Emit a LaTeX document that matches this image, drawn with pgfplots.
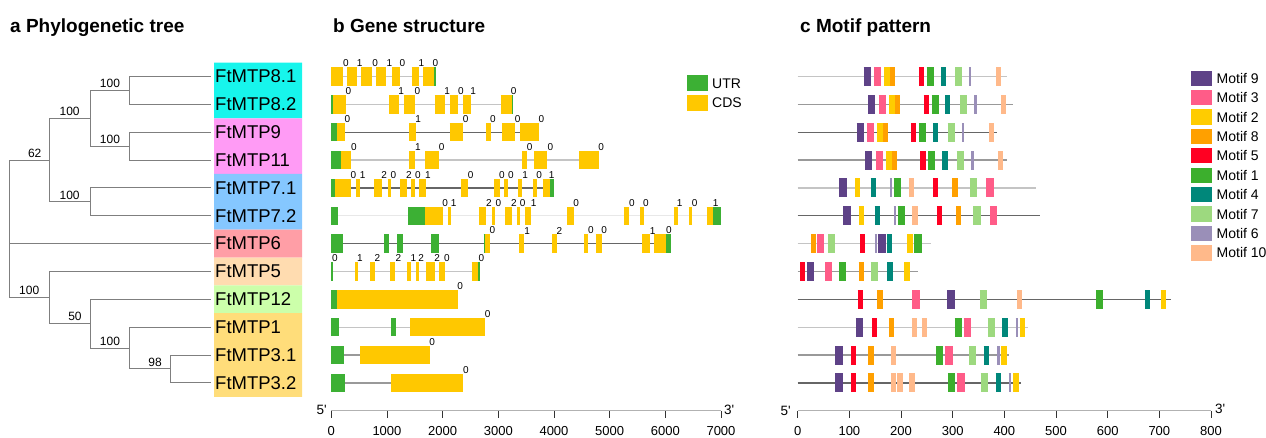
\documentclass[border=0pt]{standalone}
\usepackage{fontspec}
\setmainfont{Liberation Sans}
\newfontfamily\plainsans{Liberation Sans}
\usepackage{pgfplots}
\pgfplotsset{compat=1.18}

\definecolor{utr}{HTML}{3CB034}
\definecolor{cds}{HTML}{FFC800}
\definecolor{m9}{HTML}{5E4287}
\definecolor{m3}{HTML}{FF5C88}
\definecolor{m2}{HTML}{FFCC00}
\definecolor{m8}{HTML}{FFA000}
\definecolor{m5}{HTML}{FF0022}
\definecolor{m1}{HTML}{3CAF2D}
\definecolor{m4}{HTML}{00877A}
\definecolor{m7}{HTML}{9DD97F}
\definecolor{m6}{HTML}{9A8FB8}
\definecolor{m10}{HTML}{FFB98A}
\definecolor{bxa}{HTML}{17F5EC}
\definecolor{bxb}{HTML}{FF9BF5}
\definecolor{bxc}{HTML}{85C7FF}
\definecolor{bxd}{HTML}{FF9EA6}
\definecolor{bxe}{HTML}{FFDCB0}
\definecolor{bxf}{HTML}{CCFFAA}
\definecolor{bxg}{HTML}{FFDD7A}
\definecolor{lnlight}{HTML}{C4C4C4}
\definecolor{lnvlight}{HTML}{E8E8E8}
\definecolor{lnmid}{HTML}{999999}
\definecolor{lndark}{HTML}{666666}
\definecolor{treegray}{HTML}{7F7F7F}

\pgfplotsset{
  rows/.style={scale only axis, clip=false, y dir=reverse, ymin=0.5, ymax=13,
    height=348.125pt, anchor=south west},
  seg/.style={quiver={u=\thisrow{w},v=0}, line width=#1, line cap=butt},
  bottomaxis/.style={axis y line=none, axis x line=bottom,
    axis line style={-, draw=gray!60, line width=0.9pt},
    tick align=outside, major tick length=7pt,
    tick style={draw=gray!40!black, line width=0.8pt},
    xticklabel style={font=\fontsize{13}{13}\selectfont, text=black, yshift=-5.5pt},
    /pgf/number format/1000 sep={}, /pgf/number format/assume math mode=true},
  phase/.style={only marks, mark=none, nodes near coords, point meta=explicit symbolic,
    every node near coord/.append style={font=\fontsize{10}{10}\selectfont, text=black,
      inner sep=0pt, anchor=south, yshift=9.4pt}},
}

\begin{document}
\begin{tikzpicture}
% ---------------- a: tree ----------------
\begin{axis}[rows, at={(0pt,26.3pt)}, width=302pt, xmin=0, xmax=302, hide axis]
\addplot[fill=bxa, draw=none] coordinates {(214,0.5) (302,0.5) (302,2.5) (214,2.5) (214,0.5)};
\addplot[fill=bxb, draw=none] coordinates {(214,2.5) (302,2.5) (302,4.5) (214,4.5) (214,2.5)};
\addplot[fill=bxc, draw=none] coordinates {(214,4.5) (302,4.5) (302,6.5) (214,6.5) (214,4.5)};
\addplot[fill=bxd, draw=none] coordinates {(214,6.5) (302,6.5) (302,7.5) (214,7.5) (214,6.5)};
\addplot[fill=bxe, draw=none] coordinates {(214,7.5) (302,7.5) (302,8.5) (214,8.5) (214,7.5)};
\addplot[fill=bxf, draw=none] coordinates {(214,8.5) (302,8.5) (302,9.5) (214,9.5) (214,8.5)};
\addplot[fill=bxg, draw=none] coordinates {(214,9.5) (302,9.5) (302,12.5) (214,12.5) (214,9.5)};
\addplot[treegray, line width=1pt, line cap=rect, quiver={u=\thisrow{u},v=\thisrow{v}}] table {
x y u v
129.3 1 81.4 0
129.3 2 81.4 0
129.3 3 81.4 0
129.3 4 81.4 0
90 5 120.7 0
90 6 120.7 0
9.3 7 201.4 0
49.3 8 161.4 0
90 9 120.7 0
129.3 10 81.4 0
170 11 40.7 0
170 12 40.7 0
90 1.5 39.3 0
90 3.5 39.3 0
49.3 2.5 40.7 0
49.3 5.5 40.7 0
9.3 4 40 0
9.3 8.9375 40 0
49.3 9.875 40.7 0
90 10.75 39.3 0
129.3 11.5 40.7 0
129.3 1 0 1
129.3 3 0 1
90 1.5 0 2
90 5 0 1
49.3 2.5 0 3
9.3 4 0 4.9375
49.3 8 0 1.875
90 9 0 1.75
129.3 10 0 1.5
170 11 0 1
};
\addplot[only marks, mark=none, nodes near coords, point meta=explicit symbolic,
  every node near coord/.append style={font=\fontsize{12}{12}\selectfont, text=black,
    inner sep=0pt, anchor=south, yshift=2.5pt}] table[meta=l] {
x y l
110 1.5 100
110 3.5 100
69.6 2.5 100
69.6 5.5 100
34.7 4 62
29.2 8.9375 100
75 9.875 50
110 10.75 100
155 11.5 98
};
\addplot[only marks, mark=none, nodes near coords, point meta=explicit symbolic,
  every node near coord/.append style={font=\fontsize{18.5}{20}\selectfont, text=black,
    inner sep=0pt, anchor=west}] table[meta=l] {
x y l
215 1 FtMTP8.1
215 2 FtMTP8.2
215 3 FtMTP9
215 4 FtMTP11
215 5 FtMTP7.1
215 6 FtMTP7.2
215 7 FtMTP6
215 8 FtMTP5
215 9 FtMTP12
215 10 FtMTP1
215 11 FtMTP3.1
215 12 FtMTP3.2
};
\end{axis}

% ---------------- b: gene structure ----------------
\begin{axis}[rows, bottomaxis, at={(331.3pt,26.3pt)}, width=389.7pt,
  xmin=0, xmax=7000, xtick={0,1000,...,7000}]
\addplot[lnlight, seg=1.3pt] table {
x y w
0 1 1878
0 2 3264
0 4 4800
0 8 2676
0 10 2760
};
\addplot[lnvlight, seg=1.3pt] table {
x y w
0 6 7002
};
\addplot[lnmid, seg=1.3pt] table {
x y w
0 11 1764
0 12 2370
};
\addplot[lndark, seg=1.3pt] table {
x y w
0 3 3732
0 5 4002
0 7 6096
};
\addplot[utr, seg=18.5pt] table {
x y w
1836 1 42
0 2 24
3240 2 24
0 3 102
0 4 168
0 5 60
3924 5 78
0 6 120
1386 6 306
6858 6 144
0 7 204
954 7 78
1188 7 96
1794 7 144
2736 7 30
6018 7 78
0 8 24
2640 8 36
0 9 96
0 10 132
1080 10 90
0 11 222
0 12 246
};
\addplot[cds, seg=18.5pt] table {
x y w
0 1 204
288 1 174
540 1 198
810 1 174
1092 1 144
1446 1 126
1650 1 186
24 2 234
1032 2 180
1314 2 198
1854 2 186
2124 2 150
2370 2 132
3042 2 198
102 3 138
1398 3 120
2124 3 240
2778 3 84
3066 3 234
3384 3 348
168 4 192
1398 4 114
1686 4 240
3432 4 84
3648 4 228
4452 4 348
60 5 288
450 5 72
774 5 138
1014 5 60
1242 5 120
1434 5 72
1578 5 120
2322 5 126
2928 5 102
3096 5 78
3360 5 72
3624 5 66
3798 5 126
1692 6 318
2100 6 48
2652 6 126
2892 6 54
3126 6 114
3336 6 60
3474 6 120
4242 6 114
5250 6 102
5538 6 72
6150 6 72
6420 6 60
6744 6 114
2766 7 84
3372 7 96
3966 7 96
4548 7 66
4746 7 120
5586 7 144
5802 7 216
432 8 42
696 8 84
1062 8 84
1368 8 72
1530 8 48
1704 8 150
1938 8 96
2520 8 120
96 9 2172
1422 10 1338
522 11 1242
1074 12 1296
};
\addplot[phase] table[meta=l] {
x y l
264 1 0
510 1 1
786 1 0
1044 1 1
1278 1 0
1620 1 1
1872 1 0
306 2 0
1254 2 1
1548 2 0
2082 2 1
2328 2 0
2550 2 1
3276 2 0
288 3 0
1560 3 1
2412 3 0
2904 3 0
3348 3 0
3774 3 0
408 4 0
1554 4 1
1980 4 0
3564 4 0
3936 4 0
4848 4 0
396 5 0
564 5 1
948 5 2
1116 5 0
1392 5 2
1554 5 0
1734 5 1
2502 5 0
3066 5 0
3228 5 0
3480 5 1
3732 5 0
3960 5 1
2046 6 0
2196 6 1
2832 6 2
3000 6 0
3282 6 2
3438 6 0
3636 6 1
4398 6 0
5400 6 0
5652 6 0
6258 6 1
6528 6 0
6906 6 1
2892 7 0
3516 7 1
4098 7 2
4662 7 0
4902 7 0
5772 7 1
6066 7 0
66 8 0
516 8 1
828 8 2
1206 8 2
1476 8 1
1614 8 2
1902 8 2
2076 8 0
2694 8 0
2316 9 0
2808 10 0
1812 11 0
2418 12 0
};
\end{axis}

% ---------------- c: motif pattern ----------------
\begin{axis}[rows, bottomaxis, at={(797.7pt,26.3pt)}, width=413.3pt,
  xmin=0, xmax=800, xtick={0,100,...,800}]
\addplot[lnlight, seg=1.3pt] table {
x y w
0 1 405.5
0 5 461
0 7 257.9
0 10 444.8
};
\addplot[lnmid, seg=1.3pt] table {
x y w
0 2 415.8
0 4 404.2
0 8 232.1
0 11 409.4
};
\addplot[lndark, seg=1.3pt] table {
x y w
0 3 384.9
0 6 468.7
0 9 722.6
0 12 432
};
\addplot[m9, seg=19pt] table {
x y w
127.6 1 13.6
136.7 2 13.5
114.1 3 13.5
130.9 4 13.5
80.6 5 14.8
88.3 6 14.2
154.7 7 15.5
17.4 8 14.8
289.5 9 14.2
112.2 10 14.8
72.2 11 14.8
72.2 12 14.8
};
\addplot[m3, seg=19pt] table {
x y w
147.6 1 14.2
156.7 2 13.5
134.1 3 13.5
150.9 4 13.5
364.9 5 14.2
372 6 13.5
38 7 13.6
52.9 8 13.5
221.8 9 14.2
321 10 14.9
285 11 14.8
308.2 12 14.8
};
\addplot[m2, seg=19pt] table {
x y w
167.6 1 11.6
176.6 2 11
153.4 3 11.6
170.2 4 11.6
110.9 5 10.3
118 6 9.6
211.5 7 10.9
206.3 8 10.3
702.5 9 9.7
429.4 10 10.9
393.9 11 11
417.1 12 11
};
\addplot[m8, seg=19pt] table {
x y w
179.2 1 9
187.6 2 9.7
165 3 9.7
181.8 4 9.7
299.1 5 11
306.9 6 9.6
25.8 7 9.7
118 8 10.9
153.4 9 11
176.6 10 10.4
136 11 11
136 12 11
};
\addplot[m5, seg=19pt] table {
x y w
234.7 1 9.6
243.7 2 10.3
219.8 3 9.7
237.3 4 10.3
261.7 5 10.3
269.5 6 9.7
120.6 7 10.3
4.5 8 10.3
116 9 10.4
143.8 10 10.3
103.2 11 10.3
103.2 12 10.3
};
\addplot[m1, seg=19pt] table {
x y w
249.5 1 13.5
259.2 2 13.5
234.7 3 13.5
252.7 4 13.6
185.7 5 14.2
193.4 6 13.5
225 7 14.8
79.9 8 14.2
577 9 14.2
303.7 10 14.1
267.5 11 14.2
290.8 12 14.1
};
\addplot[m4, seg=19pt] table {
x y w
277.2 1 10.3
285.6 2 9.7
261.7 3 10.3
279.8 4 10.3
141.2 5 10.9
148.9 6 11
172.1 7 10.4
173.4 8 10.3
671.8 9 9.6
395.8 10 11
359.7 11 11
382.9 12 11
};
\addplot[m7, seg=19pt] table {
x y w
305 1 13.5
314 2 13.5
290.1 3 14.2
307.5 4 14.2
332.7 5 14.2
339.8 6 14.1
59.3 7 13.6
141.2 8 14.8
352 9 14.2
367.5 10 14.2
331.4 11 14.2
353.9 12 14.9
};
\addplot[m6, seg=19pt] table {
x y w
331.4 1 4.5
341.7 2 4.5
317.8 3 4.6
335.9 4 4.5
178.6 5 4.5
185.7 6 4.5
148.9 7 3.9
421.6 10 5.2
386.2 11 4.5
408.1 12 5.2
};
\addplot[m10, seg=19pt] table {
x y w
384.2 1 9.7
393.3 2 10.3
370 3 9.7
387.5 4 10.3
214.7 5 10.3
221.8 6 10.3
424.2 9 10.3
220.5 10 10.3
239.8 10 11
180.5 11 10.3
180.5 12 10.3
192.8 12 10.9
216 12 10.9
};
\end{axis}

% ---------------- titles, 5'/3', legends ----------------
\node[anchor=base west, inner sep=0pt, font=\fontsize{19}{19}\selectfont\bfseries] at (10pt,404.3pt) {a Phylogenetic tree};
\node[anchor=base west, inner sep=0pt, font=\fontsize{19}{19}\selectfont\bfseries] at (333pt,404.3pt) {b Gene structure};
\node[anchor=base west, inner sep=0pt, font=\fontsize{19}{19}\selectfont\bfseries] at (800pt,404.3pt) {c Motif pattern};
\node[anchor=east, inner sep=0pt, font=\plainsans\fontsize{13.5}{13.5}\selectfont] at (327pt,27pt) {5'};
\node[anchor=west, inner sep=0pt, font=\plainsans\fontsize{13.5}{13.5}\selectfont] at (724pt,27pt) {3'};
\node[anchor=east, inner sep=0pt, font=\plainsans\fontsize{13.5}{13.5}\selectfont] at (791pt,26.5pt) {5'};
\node[anchor=west, inner sep=0pt, font=\plainsans\fontsize{13.5}{13.5}\selectfont] at (1215pt,28pt) {3'};
\fill[utr] (686.7pt,345.7pt) rectangle (708.3pt,361.7pt);
\fill[cds] (686.7pt,326.3pt) rectangle (708.3pt,341.7pt);
\node[anchor=west, inner sep=0pt, font=\fontsize{14}{14}\selectfont] at (712pt,353.7pt) {UTR};
\node[anchor=west, inner sep=0pt, font=\fontsize{14}{14}\selectfont] at (712pt,334pt) {CDS};
\foreach \c/\t [count=\i from 0] in {m9/Motif 9,m3/Motif 3,m2/Motif 2,m8/Motif 8,m5/Motif 5,m1/Motif 1,m4/Motif 4,m7/Motif 7,m6/Motif 6,m10/Motif 10}{
  \fill[\c] (1191pt,{358.7pt-19.4pt*\i-7.6pt}) rectangle (1212pt,{358.7pt-19.4pt*\i+7.6pt});
  \node[anchor=west, inner sep=0pt, font=\fontsize{14}{14}\selectfont] at (1216.5pt,{358.7pt-19.4pt*\i}) {\t};
}
\pgfresetboundingbox
\path[use as bounding box] (0pt,0pt) rectangle (1266pt,437pt);
\end{tikzpicture}
\end{document}
